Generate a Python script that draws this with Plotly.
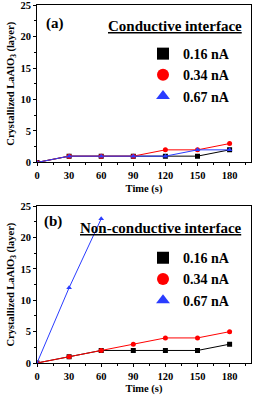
import plotly.graph_objects as go

time_s = [0, 30, 60, 90, 120, 150, 180]
x_ticks = [0, 30, 60, 90, 120, 150, 180]
y_ticks = [0, 5, 10, 15, 20, 25]
labels = ["0.16 nA", "0.34 nA", "0.67 nA"]
colors = ["#000000", "#ff0000", "#2a3cff"]
symbols = ["square", "circle", "triangle-up"]

# (a) Conductive interface
a_016 = [0, 1, 1, 1, 1, 1, 2]
a_034 = [0, 1, 1, 1, 2, 2, 3]
a_067 = [0, 1, 1, 1, 1, 2, 2]

# (b) Non-conductive interface
b_016 = [0, 1, 2, 2, 2, 2, 3]
b_034 = [0, 1, 2, 3, 4, 4, 5]
b_067_time = [0, 30, 60]
b_067 = [0, 12, 23]

FONT = "Liberation Serif, Times New Roman, serif"
W, H = 253, 396
ML, MR, MT, MB = 37, 2, 0, 33.3
PW, PH = W - ML - MR, H - MT - MB

def px(x):
    return (x - ML) / PW

def py(y):
    return 1 - (y - MT) / PH

fig = go.Figure()

panel_a = [(time_s, a_016), (time_s, a_034), (time_s, a_067)]
panel_b = [(time_s, b_016), (time_s, b_034), (b_067_time, b_067)]

for (xs, ys), c, s in zip(panel_a, colors, symbols):
    fig.add_trace(go.Scatter(x=xs, y=ys, mode="lines+markers", xaxis="x", yaxis="y",
                             line=dict(color=c, width=1), marker=dict(color=c, symbol=s, size=5),
                             showlegend=False))
for (xs, ys), c, s in zip(panel_b, colors, symbols):
    fig.add_trace(go.Scatter(x=xs, y=ys, mode="lines+markers", xaxis="x2", yaxis="y2",
                             line=dict(color=c, width=1), marker=dict(color=c, symbol=s, size=5),
                             showlegend=False))

# legend entries
for lg, xa, ya in [("legend", "x", "y"), ("legend2", "x2", "y2")]:
    for lab, c, s in zip(labels, colors, symbols):
        fig.add_trace(go.Scatter(x=[None], y=[None], mode="markers", name=lab, legend=lg,
                                 xaxis=xa, yaxis=ya,
                                 marker=dict(color=c, symbol=s, size=12)))

tickfont = dict(family=FONT, size=10.5, color="black", weight="bold")
titlefont = dict(family=FONT, size=10.5, color="black", weight="bold")

def xax(domain_anchor):
    return dict(domain=[0, 1], anchor=domain_anchor, range=[0, 200], automargin=False,
                tickmode="array", tickvals=x_ticks, ticks="outside", ticklen=3, tickwidth=1,
                tickcolor="black",
                minor=dict(tick0=15, dtick=30, ticks="outside", ticklen=2, tickcolor="black"),
                showline=True, linecolor="black", linewidth=1, mirror=True,
                showgrid=False, zeroline=False, tickfont=tickfont, ticklabeloverflow="allow",
                title=dict(text="Time (s)", font=titlefont, standoff=4))

def yax(dom, anchor):
    return dict(domain=dom, anchor=anchor, range=[0, 25.02], tickmode="array", tickvals=y_ticks,
                ticks="outside", automargin=False, ticklabeloverflow="allow",
                ticklen=3, tickwidth=1, tickcolor="black",
                minor=dict(tick0=2.5, dtick=5, ticks="outside", ticklen=2, tickcolor="black"),
                showline=True, linecolor="black", linewidth=1, mirror=True,
                showgrid=False, zeroline=False, tickfont=tickfont,
                title=dict(text="Crystallized LaAlO<sub>3</sub> (layer)", font=titlefont, standoff=3))

legfont = dict(family=FONT, size=14, color="black", weight="bold")
annfont = dict(family=FONT, size=15, color="black", weight="bold")

fig.update_layout(
    width=W, height=H,
    margin=dict(l=ML, r=MR, t=MT, b=MB, autoexpand=False),
    paper_bgcolor="white", plot_bgcolor="white",
    xaxis=xax("y"),
    yaxis=yax([py(162.3), py(5)], "x"),
    xaxis2=xax("y2"),
    yaxis2=yax([0, py(206)], "x2"),
    legend=dict(x=px(143), y=py(38), xanchor="left", yanchor="top", font=legfont,
                bgcolor="rgba(0,0,0,0)", tracegroupgap=0, itemclick=False),
    legend2=dict(x=px(143), y=py(242), xanchor="left", yanchor="top", font=legfont,
                 bgcolor="rgba(0,0,0,0)", tracegroupgap=0, itemclick=False),
    annotations=[
        dict(text="(a)", x=px(55), y=py(23), xref="paper", yref="paper", showarrow=False,
             xanchor="center", yanchor="middle", font=annfont),
        dict(text="<u>Conductive interface</u>", x=px(244), y=py(26), xref="paper", yref="paper",
             xanchor="right", yanchor="middle", showarrow=False, font=annfont),
        dict(text="(b)", x=px(53), y=py(221), xref="paper", yref="paper", showarrow=False,
             xanchor="center", yanchor="middle", font=annfont),
        dict(text="<u>Non-conductive interface</u>", x=px(244), y=py(228), xref="paper", yref="paper",
             xanchor="right", yanchor="middle", showarrow=False, font=annfont),
    ],
)

fig.write_html("out.html", config={"displayModeBar": False},
               post_script="document.body.style.margin='0';document.body.style.overflow='hidden';")
